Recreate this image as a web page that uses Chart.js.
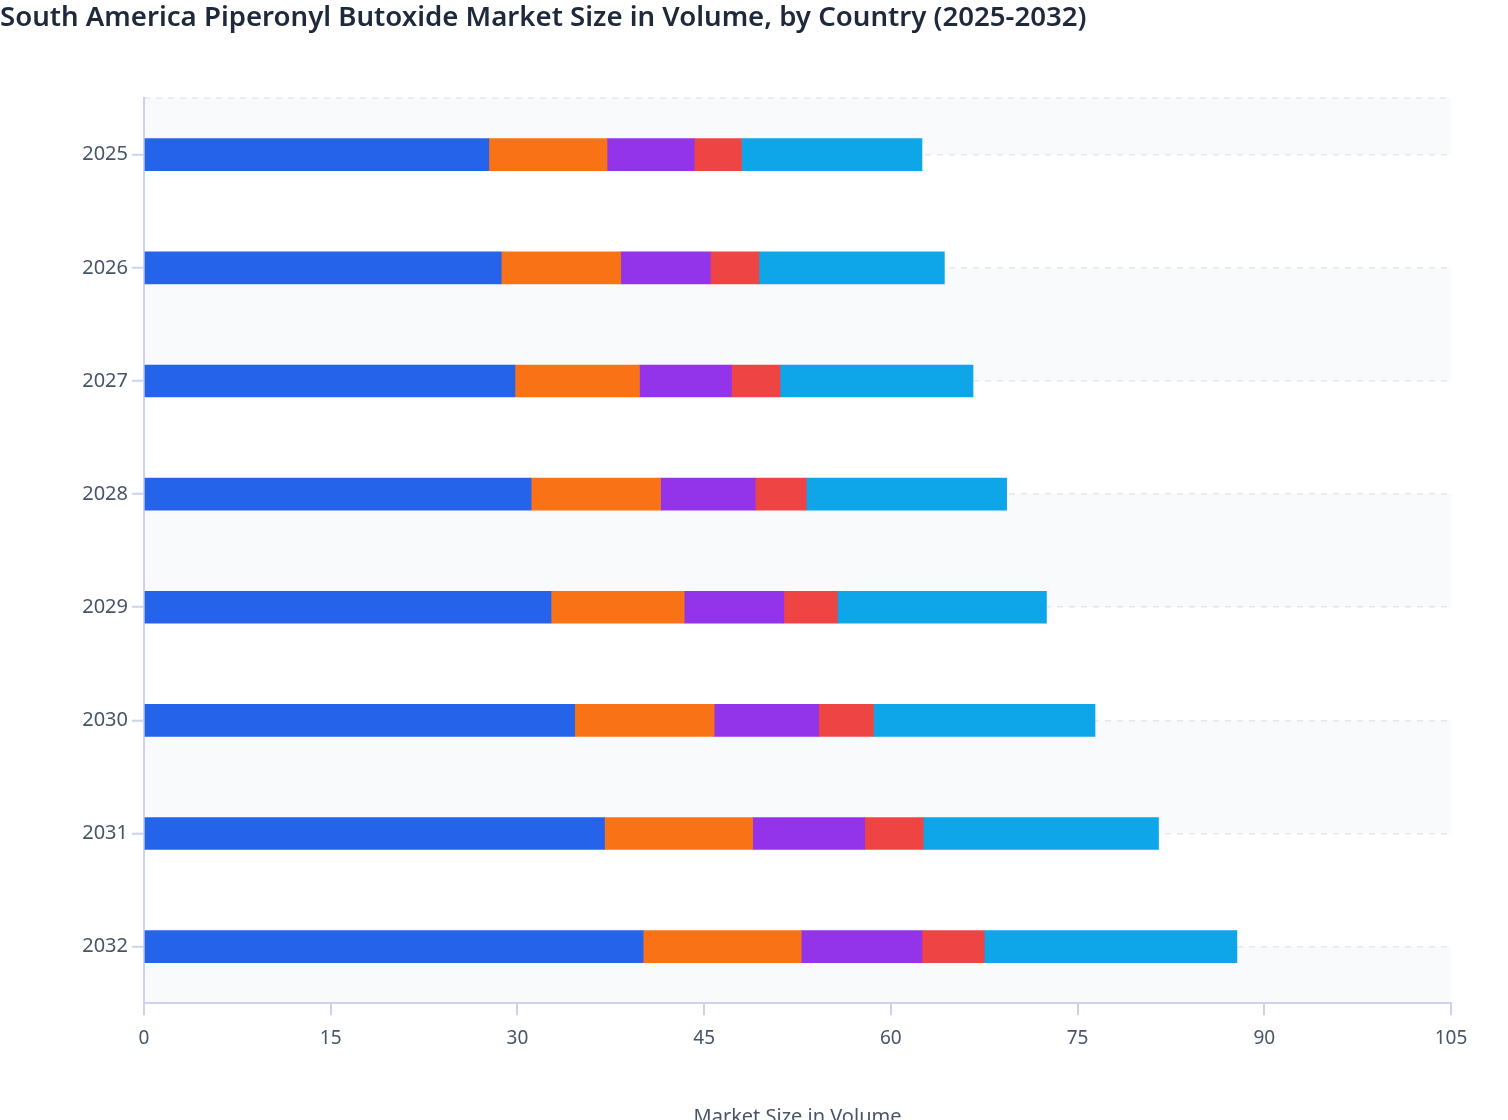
<!DOCTYPE html>
<html>
<head>
<meta charset="utf-8">
<title>South America Piperonyl Butoxide Market Size in Volume</title>
<script src="https://cdn.jsdelivr.net/npm/chart.js@4.4.1/dist/chart.umd.min.js"></script>
<style>
  html, body { margin: 0; padding: 0; background: #fff; overflow: hidden; }
  .chart__container { position: relative; width: 1508px; height: 1133px; }
</style>
</head>
<body>
<div class="chart__container"><canvas id="myChart"></canvas></div>
<script>
// values
const years = ["2025", "2026", "2027", "2028", "2029", "2030", "2031", "2032"];
const brazil = [27.7, 28.7, 29.8, 31.1, 32.7, 34.6, 37.0, 40.1];
const argentina = [9.5, 9.6, 10.0, 10.4, 10.7, 11.2, 11.9, 12.7];
const colombia = [7.0, 7.2, 7.4, 7.6, 8.0, 8.4, 9.0, 9.7];
const chile = [3.8, 3.9, 3.9, 4.1, 4.3, 4.4, 4.7, 5.0];
const restOfSouthAmerica = [14.5, 14.9, 15.5, 16.1, 16.8, 17.8, 18.9, 20.3];
const xTicks = { min: 0, max: 105, step: 15 };

const FONT = "'Noto Sans', 'Open Sans', sans-serif";
const axisColor = "#c9d3ee";
const gridColor = "#e5e7eb";
const stripeColor = "#f8fafc";

// shaded bands between every other row line, plus the dashed top line
const stripes = {
  id: "stripes",
  beforeDraw(chart) {
    const { ctx, chartArea, scales } = chart;
    const lines = [chartArea.top];
    years.forEach((y, i) => lines.push(scales.y.getPixelForValue(i)));
    lines.push(chartArea.bottom);
    ctx.save();
    ctx.fillStyle = stripeColor;
    for (let i = 0; i < lines.length - 1; i += 2) {
      ctx.fillRect(chartArea.left, lines[i], chartArea.right - chartArea.left, lines[i + 1] - lines[i]);
    }
    ctx.strokeStyle = gridColor;
    ctx.lineWidth = 1.5;
    ctx.setLineDash([6, 6]);
    ctx.beginPath();
    ctx.moveTo(chartArea.left, chartArea.top);
    ctx.lineTo(chartArea.right, chartArea.top);
    ctx.stroke();
    ctx.restore();
  },
};

const ctx = document.getElementById("myChart").getContext("2d");
const myChart = new Chart(ctx, {
  type: "bar",
  data: {
    labels: years,
    datasets: [
      { label: "Brazil", data: brazil, backgroundColor: "#2563eb" },
      { label: "Argentina", data: argentina, backgroundColor: "#f97316" },
      { label: "Colombia", data: colombia, backgroundColor: "#9333ea" },
      { label: "Chile", data: chile, backgroundColor: "#ef4444" },
      { label: "Rest of South America", data: restOfSouthAmerica, backgroundColor: "#0ea5e9" },
    ],
  },
  options: {
    indexAxis: "y",
    responsive: true,
    maintainAspectRatio: false,
    animation: false,
    barThickness: 32,
    layout: { padding: { left: 0, right: 57, top: 0, bottom: 0 } },
    scales: {
      x: {
        stacked: true,
        min: xTicks.min,
        max: xTicks.max,
        ticks: {
          stepSize: xTicks.step,
          padding: 12,
          color: "#475569",
          font: { family: FONT, size: 19 },
        },
        grid: {
          drawOnChartArea: false,
          color: axisColor,
          tickLength: 12,
          lineWidth: 2,
        },
        border: { color: axisColor, width: 2 },
        title: {
          display: true,
          text: "Market Size in Volume",
          color: "#475569",
          font: { family: FONT, size: 20 },
          padding: { top: 43, bottom: 4 },
        },
      },
      y: {
        stacked: true,
        afterFit: (scale) => {
          scale.width = 144;
        },
        ticks: {
          padding: 4,
          color: "#475569",
          font: { family: FONT, size: 20 },
        },
        grid: {
          offset: false,
          color: gridColor,
          lineWidth: 1.5,
          tickColor: axisColor,
          tickLength: 12,
          tickWidth: 2,
        },
        border: { color: axisColor, width: 2, dash: [6, 6] },
      },
    },
    plugins: {
      legend: { display: false },
      tooltip: { enabled: false },
      title: {
        display: true,
        text: "South America Piperonyl Butoxide Market Size in Volume, by Country (2025-2032)",
        align: "start",
        color: "#1e293b",
        font: { family: FONT, size: 27.6, weight: 600 },
        padding: { top: 2, bottom: 63 },
      },
    },
  },
  plugins: [stripes],
});
</script>
</body>
</html>
